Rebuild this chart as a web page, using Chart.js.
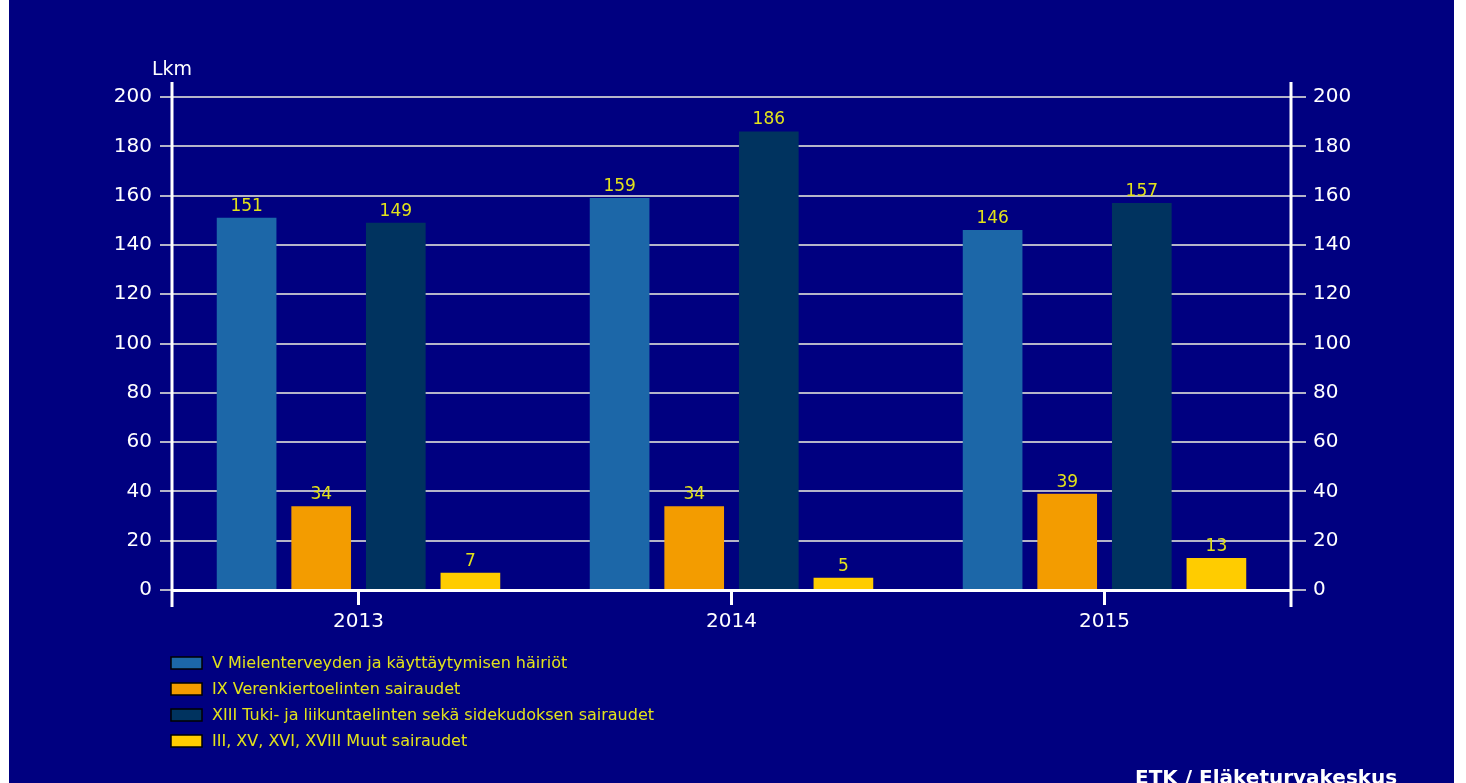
<!DOCTYPE html>
<html>
<head>
<meta charset="utf-8">
<script src="https://cdn.jsdelivr.net/npm/chart.js@4.4.1/dist/chart.umd.min.js"></script>
<style>
  html, body { margin: 0; padding: 0; background: #fff; }
  #wrap { width: 1466px; height: 783px; }
</style>
</head>
<body>
<div id="wrap"><canvas id="kaavio" width="1466" height="783"></canvas></div>
<script>
// Aineisto
const vuodet = ['2013', '2014', '2015'];
const mielenterveys = [151, 159, 146];
const verenkierto = [34, 34, 39];
const tukiJaLiikunta = [149, 186, 157];
const muut = [7, 5, 13];
const sarjaNimet = [
  'V Mielenterveyden ja käyttäytymisen häiriöt',
  'IX Verenkiertoelinten sairaudet',
  'XIII Tuki- ja liikuntaelinten sekä sidekudoksen sairaudet',
  'III, XV, XVI, XVIII Muut sairaudet'
];
const sarjaVarit = ['#1c67a8', '#f39c00', '#00335f', '#ffcc00'];
const yMin = 0, yMax = 200, yAskel = 20;

const FONTTI = '"DejaVu Sans", Verdana, sans-serif';
const TAUSTA = '#000080';
const RUUDUKKO = '#b4b4c8';
const KELTAINEN = '#e2e21a';

// Tausta, akselit, arvot, selite ja tekstit
const piirtoPlugin = {
  id: 'piirto',
  beforeDraw(chart) {
    const c = chart.ctx;
    c.save();
    c.fillStyle = '#fff';
    c.fillRect(0, 0, chart.width, chart.height);
    c.fillStyle = TAUSTA;
    c.fillRect(9, 0, 1445, chart.height);
    c.restore();
  },
  afterDatasetsDraw(chart) {
    const c = chart.ctx;
    const a = chart.chartArea;
    c.save();

    // pystyakselit jatkuvat hieman alueen yli
    c.strokeStyle = '#fff';
    c.lineWidth = 3;
    [a.left, a.right].forEach(x => {
      c.beginPath();
      c.moveTo(x, a.top - 15);
      c.lineTo(x, a.bottom + 17);
      c.stroke();
    });

    // arvot pylväiden päällä
    c.font = '17px ' + FONTTI;
    c.fillStyle = KELTAINEN;
    c.textAlign = 'center';
    c.textBaseline = 'bottom';
    chart.data.datasets.forEach((ds, i) => {
      chart.getDatasetMeta(i).data.forEach((el, j) => {
        c.fillText(String(ds.data[j]), el.x, el.y - 3);
      });
    });

    // Lkm
    c.font = '19px ' + FONTTI;
    c.fillStyle = '#fff';
    c.textAlign = 'left';
    c.textBaseline = 'middle';
    c.fillText('Lkm', 152, 70);

    // selite
    c.font = '16px ' + FONTTI;
    chart.data.datasets.forEach((ds, i) => {
      const y = 663 + i * 26;
      c.fillStyle = ds.backgroundColor;
      c.fillRect(171, y - 6, 31, 12);
      c.strokeStyle = '#000';
      c.lineWidth = 1.5;
      c.strokeRect(171, y - 6, 31, 12);
      c.fillStyle = KELTAINEN;
      c.fillText(ds.label, 212, y + 1);
    });

    // lähde
    c.font = 'bold 20px ' + FONTTI;
    c.fillStyle = '#fff';
    c.textBaseline = 'alphabetic';
    c.fillText('ETK / Eläketurvakeskus', 1135, 784);

    c.restore();
  }
};

const aineistot = [mielenterveys, verenkierto, tukiJaLiikunta, muut].map((d, i) => ({
  label: sarjaNimet[i],
  data: d,
  backgroundColor: sarjaVarit[i],
  borderWidth: 0,
  barPercentage: 0.8,
  categoryPercentage: 0.8,
  yAxisID: 'y'
}));

const yAkseli = (puoli, pituus, vali) => ({
  type: 'linear',
  position: puoli,
  min: yMin,
  max: yMax,
  ticks: {
    stepSize: yAskel,
    color: '#fff',
    font: { family: FONTTI, size: 20 },
    padding: vali
  },
  grid: {
    color: RUUDUKKO,
    lineWidth: 2,
    drawOnChartArea: puoli === 'left',
    drawTicks: true,
    tickLength: pituus,
    tickColor: RUUDUKKO,
    tickWidth: 2
  },
  border: { display: false },
  afterFit(scale) { scale.width = puoli === 'left' ? 172 : 175; }
});

new Chart(document.getElementById('kaavio'), {
  type: 'bar',
  data: { labels: vuodet, datasets: aineistot },
  options: {
    responsive: false,
    animation: false,
    devicePixelRatio: 1,
    layout: { padding: { top: 97, bottom: 148, left: 0, right: 0 } },
    plugins: {
      legend: { display: false },
      tooltip: { enabled: false }
    },
    scales: {
      x: {
        ticks: {
          color: '#fff',
          font: { family: FONTTI, size: 20 },
          padding: 5
        },
        grid: {
          display: true,
          offset: false,
          drawOnChartArea: false,
          drawTicks: true,
          tickLength: 15,
          tickColor: '#fff',
          tickWidth: 3
        },
        border: { display: true, color: '#fff', width: 3 },
        afterFit(scale) { scale.height = 45; }
      },
      y: yAkseli('left', 12, 8),
      y2: yAkseli('right', 15, 7)
    }
  },
  plugins: [piirtoPlugin]
});
</script>
</body>
</html>
